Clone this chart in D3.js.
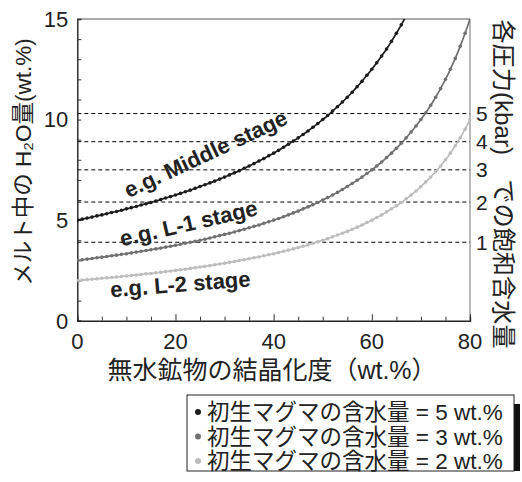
<!DOCTYPE html>
<html><head><meta charset="utf-8">
<script src="https://cdn.jsdelivr.net/npm/d3@7/dist/d3.min.js"></script>
<style>
body{margin:0;background:#fff}
svg{display:block}
text{font-family:"Liberation Sans","Noto Sans CJK JP",sans-serif}
</style>
</head><body>
<svg id="c" width="522" height="482"></svg>
<script>
// ---------- data ----------
const crystallinity = d3.range(0, 81); // 無水鉱物の結晶化度 (wt.%), 1 wt.% steps
const water5 = [5.00,5.05,5.10,5.15,5.21,5.26,5.32,5.38,5.43,5.49,5.56,5.62,5.68,5.75,5.81,5.88,5.95,6.02,6.10,6.17,
  6.25,6.33,6.41,6.49,6.58,6.67,6.76,6.85,6.94,7.04,7.14,7.25,7.35,7.46,7.58,7.69,7.81,7.94,8.06,8.20,
  8.33,8.47,8.62,8.77,8.93,9.09,9.26,9.43,9.62,9.80,10.00,10.20,10.42,10.64,10.87,11.11,11.36,11.63,11.90,12.20,
  12.50,12.82,13.16,13.51,13.89,14.29,14.71,15.15];
const water3 = [3.00,3.03,3.06,3.09,3.13,3.16,3.19,3.23,3.26,3.30,3.33,3.37,3.41,3.45,3.49,3.53,3.57,3.61,3.66,3.70,
  3.75,3.80,3.85,3.90,3.95,4.00,4.05,4.11,4.17,4.23,4.29,4.35,4.41,4.48,4.55,4.62,4.69,4.76,4.84,4.92,
  5.00,5.08,5.17,5.26,5.36,5.45,5.56,5.66,5.77,5.88,6.00,6.12,6.25,6.38,6.52,6.67,6.82,6.98,7.14,7.32,
  7.50,7.69,7.89,8.11,8.33,8.57,8.82,9.09,9.38,9.68,10.00,10.34,10.71,11.11,11.54,12.00,12.50,13.04,13.64,14.29,15.00];
const water2 = [2.00,2.02,2.04,2.06,2.08,2.11,2.13,2.15,2.17,2.20,2.22,2.25,2.27,2.30,2.33,2.35,2.38,2.41,2.44,2.47,
  2.50,2.53,2.56,2.60,2.63,2.67,2.70,2.74,2.78,2.82,2.86,2.90,2.94,2.99,3.03,3.08,3.13,3.17,3.23,3.28,
  3.33,3.39,3.45,3.51,3.57,3.64,3.70,3.77,3.85,3.92,4.00,4.08,4.17,4.26,4.35,4.44,4.55,4.65,4.76,4.88,
  5.00,5.13,5.26,5.41,5.56,5.71,5.88,6.06,6.25,6.45,6.67,6.90,7.14,7.41,7.69,8.00,8.33,8.70,9.09,9.52,10.00];
const satPressure = ["1","2","3","4","5"];          // kbar
const satWater = [3.9, 5.9, 7.5, 8.9, 10.3];         // wt.%
const xTickLabels = [0, 20, 40, 60, 80];
const yTickLabels = [0, 5, 10, 15];
const stageLabels = ["e.g. Middle stage", "e.g. L-1 stage", "e.g. L-2 stage"];
const legendLabels = ["初生マグマの含水量 = 5 wt.%", "初生マグマの含水量 = 3 wt.%", "初生マグマの含水量 = 2 wt.%"];
const xTitle = "無水鉱物の結晶化度（wt.%）";
const yTitle = "メルト中の H₂O量(wt.%)";
const y2Title = "各圧力(kbar)　での飽和含水量";

// ---------- layout ----------
const svg = d3.select("#c");
const L = 77.3, R = 470, T = 19, B = 320.7;
const x = d3.scaleLinear().domain([0, 80]).range([L, R]);
const y = d3.scaleLinear().domain([0, 15]).range([B, T]);
const colors = ["#1c1c1c", "#707070", "#bdbdbd"];
const series = [water5, water3, water2];

svg.append("defs").append("clipPath").attr("id", "clip")
  .append("rect").attr("x", L).attr("y", T).attr("width", R - L).attr("height", B - T);

// dashed saturation lines
svg.append("g").selectAll("line").data(satWater).join("line")
  .attr("x1", L).attr("x2", R).attr("y1", d => y(d)).attr("y2", d => y(d))
  .attr("stroke", "#000").attr("stroke-width", 1).attr("stroke-dasharray", "4,3");

// frame: top & right
svg.append("line").attr("x1", L).attr("x2", R).attr("y1", T).attr("y2", T).attr("stroke", "#555").attr("stroke-width", 1.2);
svg.append("line").attr("x1", R).attr("x2", R).attr("y1", T).attr("y2", B).attr("stroke", "#888").attr("stroke-width", 1.2);

// axes with inward ticks
const yAxis = d3.axisLeft(y).tickValues(d3.range(0, 16)).tickSize(-4).tickFormat("");
const gy = svg.append("g").attr("transform", `translate(${L},0)`).call(yAxis);
const xAxis = d3.axisBottom(x).tickValues(d3.range(0, 81, 5)).tickSize(-4).tickFormat("");
const gx = svg.append("g").attr("transform", `translate(0,${B})`).call(xAxis);
gx.selectAll(".tick line").filter(d => d % 20 === 0).attr("y2", -6.5);
[gx, gy].forEach(g => {
  g.select(".domain").attr("stroke", "#222").attr("stroke-width", 1.4);
  g.selectAll(".tick line").attr("stroke", "#333").attr("stroke-width", 1);
});

// tick labels
svg.append("g").selectAll("text").data(yTickLabels).join("text")
  .attr("x", L - 9).attr("y", d => y(d)).attr("dy", "0.36em")
  .attr("text-anchor", "end").attr("font-size", 22).attr("fill", "#222").text(d => d);
svg.append("g").selectAll("text").data(xTickLabels).join("text")
  .attr("x", d => x(d)).attr("y", B + 28)
  .attr("text-anchor", "middle").attr("font-size", 22).attr("fill", "#222").text(d => d);
svg.append("g").selectAll("text").data(satPressure).join("text")
  .attr("x", R + 6).attr("y", (d, i) => y(satWater[i])).attr("dy", "0.36em")
  .attr("text-anchor", "start").attr("font-size", 21).attr("fill", "#222").text(d => d);

// curves
const line = d3.line().x((d, i) => x(crystallinity[i])).y(d => y(d)).curve(d3.curveMonotoneX);
const gc = svg.append("g").attr("clip-path", "url(#clip)");
series.forEach((s, k) => {
  gc.append("path").datum(s).attr("d", line).attr("fill", "none")
    .attr("stroke", colors[k]).attr("stroke-width", 1.7);
  gc.append("g").selectAll("circle").data(s).join("circle")
    .attr("cx", (d, i) => x(crystallinity[i])).attr("cy", d => y(d)).attr("r", 1.8)
    .attr("fill", colors[k]);
});

// stage labels
const stagePos = [[26.8, 7.95, -25], [23.0, 4.47, -13], [21.1, 1.44, -4.5]];
svg.append("g").selectAll("text").data(stageLabels).join("text")
  .attr("transform", (d, i) => `translate(${x(stagePos[i][0])},${y(stagePos[i][1])}) rotate(${stagePos[i][2]})`)
  .attr("text-anchor", "middle").attr("font-size", 22).attr("font-weight", "bold").attr("fill", "#222")
  .text(d => d);

// axis titles
svg.append("text").attr("x", 272).attr("y", 379).attr("text-anchor", "middle")
  .attr("font-size", 25).attr("fill", "#222").text(xTitle);
svg.append("text").attr("transform", "translate(31,162) rotate(-90)").attr("text-anchor", "middle")
  .attr("font-size", 22.5).attr("fill", "#222").text(yTitle);
svg.append("text").attr("transform", "translate(495,184) rotate(90)").attr("text-anchor", "middle")
  .attr("font-size", 24.2).attr("fill", "#222").text(y2Title);

// legend
const lg = svg.append("g");
lg.append("rect").attr("x", 514).attr("y", 404).attr("width", 6).attr("height", 67).attr("fill", "#111");
lg.append("rect").attr("x", 187).attr("y", 395).attr("width", 327).attr("height", 76)
  .attr("fill", "#fff").attr("stroke", "#222").attr("stroke-width", 1);
legendLabels.forEach((t, i) => {
  const cy = 412 + i * 24.5;
  lg.append("circle").attr("cx", 198).attr("cy", cy).attr("r", 3).attr("fill", colors[i]);
  lg.append("text").attr("x", 207).attr("y", cy).attr("dy", "0.36em")
    .attr("font-size", 22.5).attr("fill", "#222").text(t);
});
</script>
</body></html>
